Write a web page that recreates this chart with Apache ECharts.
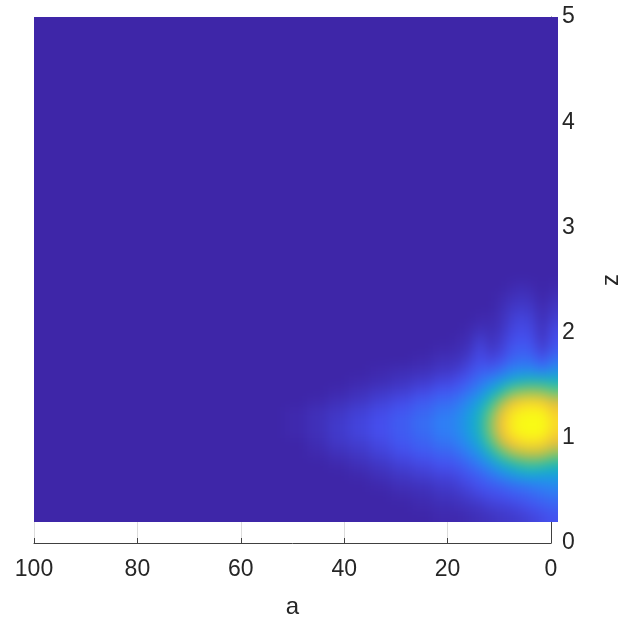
<!DOCTYPE html>
<html>
<head>
<meta charset="utf-8">
<script src="https://cdn.jsdelivr.net/npm/echarts@6/dist/echarts.min.js"></script>
<style>
html,body{margin:0;padding:0;background:#fff;overflow:hidden;width:631px;height:627px;}
#wrap{position:relative;width:631px;height:627px;}
#axes,#surface{position:absolute;left:0;top:0;width:631px;height:627px;}
#surface{filter:blur(6px);}
</style>
</head>
<body>
<div id="wrap">
  <div id="axes"></div>
  <div id="surface"></div>
</div>
<script>
// x ticks (a), y ticks (z)
const xTicks = [100, 80, 60, 40, 20, 0];
const yTicks = [0, 1, 2, 3, 4, 5];

// Cell edges of the fine grid (a direction and z direction)
const aEdges = [0, 2, 4, 6, 8, 10, 12, 14, 16, 18, 20, 24, 28, 32, 36, 40, 44, 48, 52];
const zEdges = [0.2, 0.3, 0.4, 0.5, 0.6, 0.7, 0.8, 0.9, 1.0, 1.1, 1.2, 1.3, 1.4, 1.5, 1.6, 1.7, 1.8, 1.9, 2.0, 2.1, 2.2, 2.3, 2.4, 2.5, 2.6];
// Full extent of the surface
const surfA = [0, 100];
const surfZ = [0.2, 5];
const backgroundValue = 0;

// Values (0-100) per column, bottom (z=0.25) to top (z=2.55)
const col_a1  = [13,17,22,28,36,50,68,84,92,94,91,82,62,44,30,21,15,12,10,7,5,3,1,0];
const col_a3  = [11,15,20,26,36,54,76,92,99,100,98,90,68,46,24,13,7,4,3,2,1,0,0,0];
const col_a5  = [9,13,18,24,38,56,78,94,100,100,99,92,70,47,28,19,14,11,9,7,5,3,1,0];
const col_a7  = [7,11,16,22,36,54,76,93,99,100,98,91,68,45,28,20,16,13,11,9,6,4,2,0];
const col_a9  = [6,9,14,20,32,48,70,88,96,97,95,85,63,40,26,18,14,11,9,7,5,3,1,0];
const col_a11 = [5,8,12,17,27,40,58,76,86,88,84,70,50,33,20,12,8,6,4,3,2,1,0,0];
const col_a13 = [4,7,11,15,22,31,44,57,66,68,63,52,38,26,16,9,5,3,2,1,0,0,0,0];
const col_a15 = [3,5,9,13,17,24,32,40,46,47,44,37,28,21,16,12,10,7,3,1,0,0,0,0];
const col_a17 = [2,4,7,10,14,19,25,31,35,36,34,29,22,16,11,7,4,2,1,0,0,0,0,0];
const col_a19 = [1,3,5,8,11,15,20,25,28,29,27,23,17,12,7,4,2,1,0,0,0,0,0,0];
const col_a22 = [1,2,4,6,9,13,17,21,24,25,23,19,14,9,5,3,1,0,0,0,0,0,0,0];
const col_a26 = [0,1,2,4,7,10,14,17,19,20,18,15,10,6,3,1,0,0,0,0,0,0,0,0];
const col_a30 = [0,0,1,3,5,8,11,14,15,16,14,11,7,4,2,0,0,0,0,0,0,0,0,0];
const col_a34 = [0,0,0,1,3,5,8,10,12,12,11,8,5,2,1,0,0,0,0,0,0,0,0,0];
const col_a38 = [0,0,0,0,1,3,5,7,9,9,8,5,3,1,0,0,0,0,0,0,0,0,0,0];
const col_a42 = [0,0,0,0,0,1,3,5,6,6,5,3,1,0,0,0,0,0,0,0,0,0,0,0];
const col_a46 = [0,0,0,0,0,0,1,2,3,3,3,1,0,0,0,0,0,0,0,0,0,0,0,0];
const col_a50 = [0,0,0,0,0,0,0,0,1,1,1,0,0,0,0,0,0,0,0,0,0,0,0,0];

const columns = [col_a1,col_a3,col_a5,col_a7,col_a9,col_a11,col_a13,col_a15,col_a17,col_a19,
                 col_a22,col_a26,col_a30,col_a34,col_a38,col_a42,col_a46,col_a50];

const parula = ['#3E26A8','#4550F0','#2E80F5','#14A6DA','#1EBBB0','#5ECB7D','#B4BE4B','#F8BB3C','#F9FB15'];

// Build cells: [a0, a1, z0, z1, value]
const cells = [[surfA[0], surfA[1], surfZ[0], surfZ[1], backgroundValue]];
for (let i = 0; i < columns.length; i++) {
  for (let j = 0; j < zEdges.length - 1; j++) {
    cells.push([aEdges[i], aEdges[i + 1], zEdges[j], zEdges[j + 1], columns[i][j]]);
  }
}

const textColor = '#262626';
const fontFamily = 'Liberation Sans, Arial, Helvetica, sans-serif';
const gridBox = {left: 34, right: 73, top: 17, bottom: 84, containLabel: false};

// Layer 1: axes, labels and grid lines
const axesChart = echarts.init(document.getElementById('axes'), null, {renderer: 'canvas'});
axesChart.setOption({
  animation: false,
  backgroundColor: '#ffffff',
  grid: gridBox,
  xAxis: {
    type: 'value', min: 0, max: 100, interval: 20, inverse: true,
    name: 'a', nameLocation: 'middle', nameGap: 52,
    nameTextStyle: {fontSize: 24, color: textColor, fontFamily: fontFamily},
    axisLine: {show: true, lineStyle: {color: '#404040', width: 1}},
    axisTick: {show: true, inside: true, length: 5, lineStyle: {color: '#404040'}},
    axisLabel: {fontSize: 23, color: textColor, margin: 15, fontFamily: fontFamily,
      formatter: v => (xTicks.indexOf(v) >= 0 ? String(v) : '')},
    splitLine: {show: true, lineStyle: {color: '#DCDCDC', width: 1}}
  },
  yAxis: {
    type: 'value', min: 0, max: 5, interval: 1, position: 'right',
    name: 'z', nameLocation: 'middle', nameGap: 48, nameRotate: 90,
    nameTextStyle: {fontSize: 24, color: textColor, fontFamily: fontFamily},
    axisLine: {show: true, lineStyle: {color: '#404040', width: 1}},
    axisTick: {show: true, inside: true, length: 5, lineStyle: {color: '#404040'}},
    axisLabel: {fontSize: 23, color: textColor, margin: 11, fontFamily: fontFamily,
      formatter: v => (yTicks.indexOf(v) >= 0 ? String(v) : '')},
    splitLine: {show: false}
  },
  series: []
});

// Layer 2: the surface (smoothed by the container's CSS blur, clipped to the surface box)
const surfEl = document.getElementById('surface');
const surfChart = echarts.init(surfEl, null, {renderer: 'canvas'});
const ext = 16;
surfChart.setOption({
  animation: false,
  backgroundColor: 'transparent',
  grid: gridBox,
  xAxis: {type: 'value', min: 0, max: 100, inverse: true, show: false},
  yAxis: {type: 'value', min: 0, max: 5, position: 'right', show: false},
  visualMap: {
    show: false, type: 'continuous', min: 0, max: 100, dimension: 4, seriesIndex: 0,
    inRange: {color: parula}
  },
  series: [{
    type: 'custom',
    clip: false,
    data: cells,
    encode: {x: [0, 1], y: [2, 3]},
    renderItem: function (params, api) {
      const va0 = api.value(0), va1 = api.value(1), vz0 = api.value(2), vz1 = api.value(3);
      const pA0 = api.coord([va0, vz0]), pA1 = api.coord([va1, vz1]);
      let xa0 = pA0[0], xa1 = pA1[0], yz0 = pA0[1], yz1 = pA1[1];
      const sx = xa1 > xa0 ? 1 : -1;
      const sy = yz1 > yz0 ? 1 : -1;
      const pad = 0.6;
      xa0 -= sx * (va0 === surfA[0] ? ext : pad);
      xa1 += sx * (va1 === surfA[1] ? ext : pad);
      yz0 -= sy * (vz0 === surfZ[0] ? ext : pad);
      yz1 += sy * (vz1 === surfZ[1] ? ext : pad);
      const x0 = Math.min(xa0, xa1), x1 = Math.max(xa0, xa1);
      const y0 = Math.min(yz0, yz1), y1 = Math.max(yz0, yz1);
      return {
        type: 'rect',
        shape: {x: x0, y: y0, width: x1 - x0, height: y1 - y0},
        style: {fill: api.visual('color')},
        silent: true
      };
    }
  }]
});

// Clip the smoothed surface layer to the surface's own extent
const pTL = surfChart.convertToPixel({gridIndex: 0}, [surfA[1], surfZ[1]]);
const pBR = surfChart.convertToPixel({gridIndex: 0}, [surfA[0], surfZ[0]]);
const cl = Math.round(Math.min(pTL[0], pBR[0])), cr = Math.round(Math.max(pTL[0], pBR[0]));
const ct = Math.round(Math.min(pTL[1], pBR[1])), cb = Math.round(Math.max(pTL[1], pBR[1]));
surfEl.style.clipPath = 'inset(' + ct + 'px ' + (631 - cr) + 'px ' + (627 - cb) + 'px ' + cl + 'px)';
</script>
</body>
</html>
